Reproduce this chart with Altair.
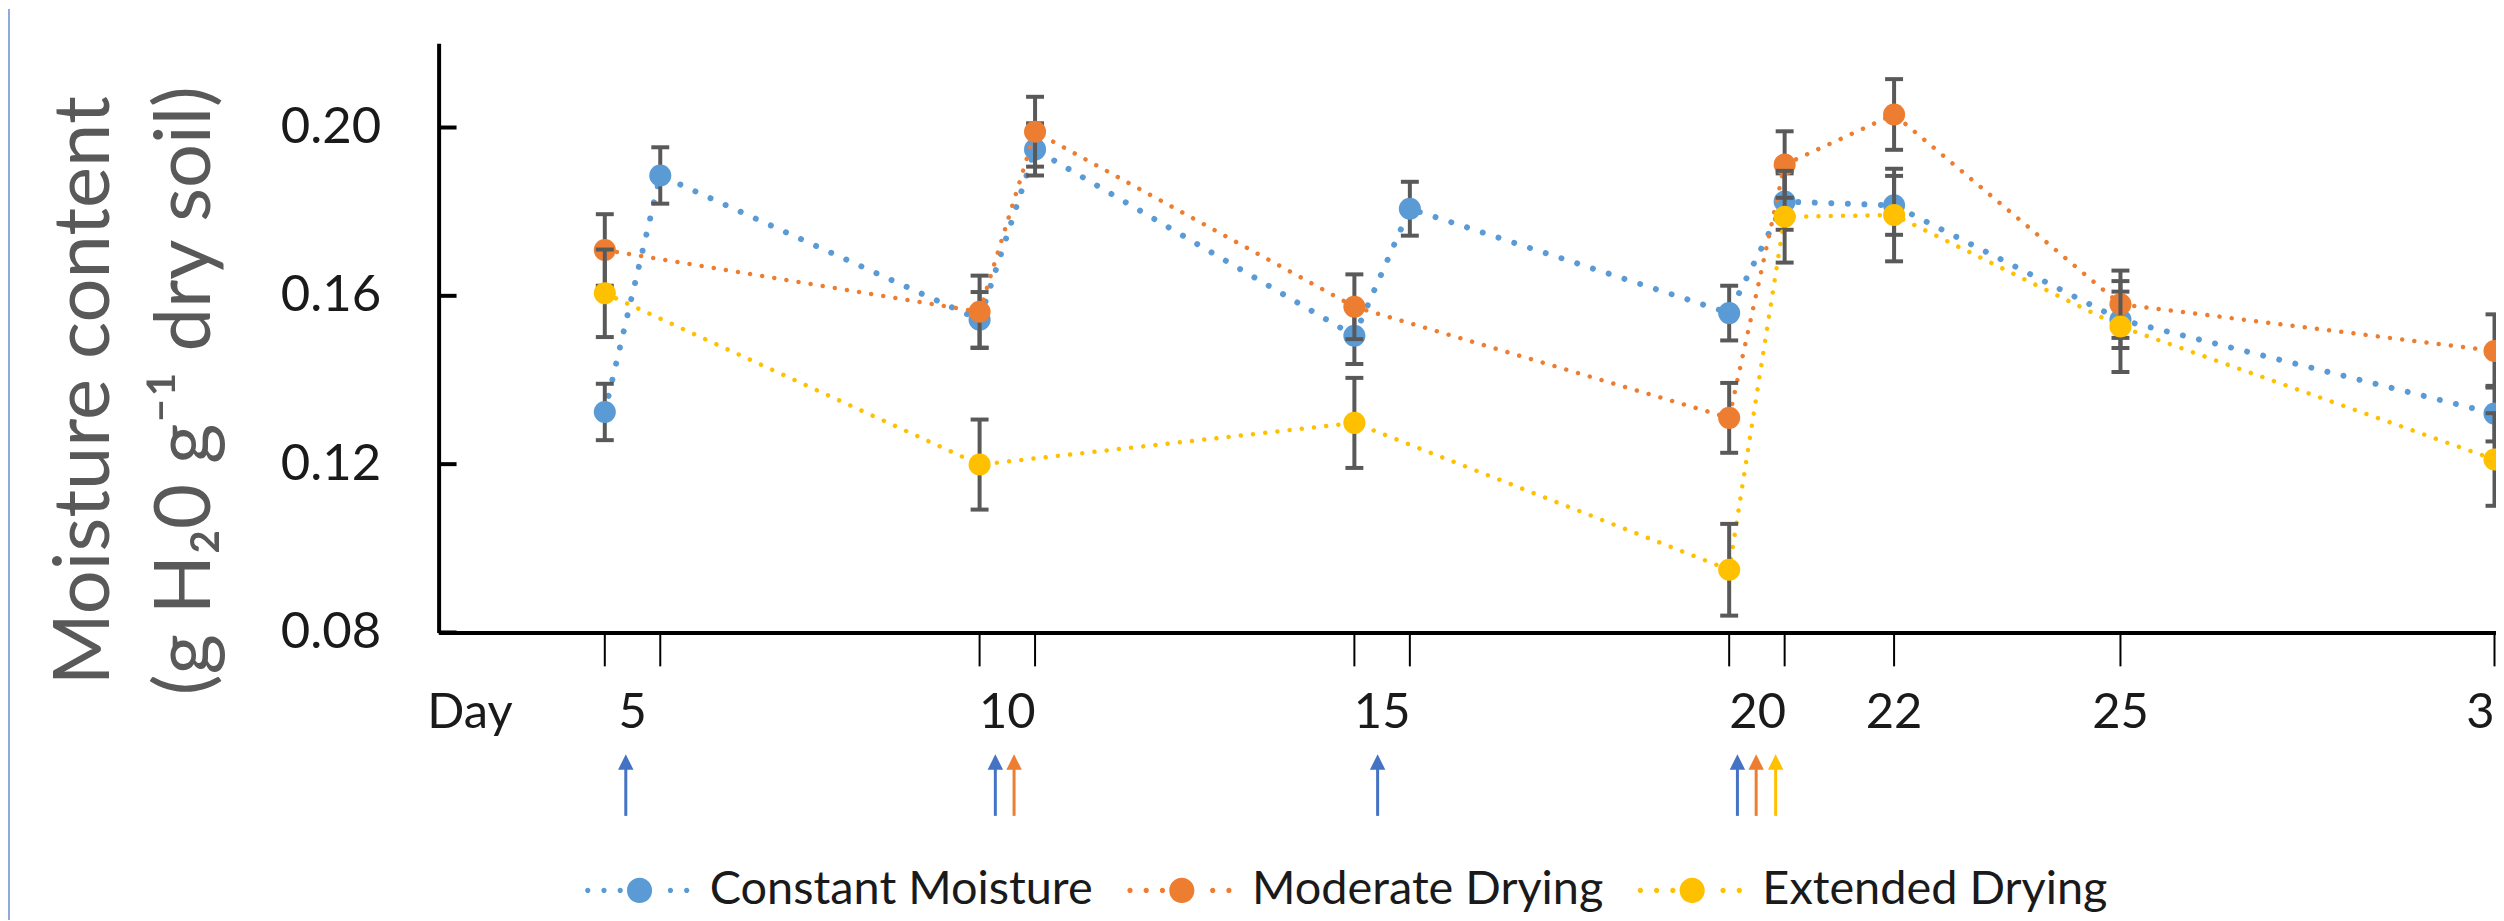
import altair as alt
import pandas as pd

FONT = "Lato"

series_names = ["Constant Moisture", "Moderate Drying", "Extended Drying"]
series_colors = ["#5B9BD5", "#ED7D31", "#FFC000"]
arrow_colors = ["#4472C4", "#ED7D31", "#FFC000"]

# sampling times (day); second sample ~0.74 d after rewetting
cm_days = [5, 5.74, 10, 10.74, 15, 15.74, 20, 20.74, 22.2, 25.22, 30.21]
cm_mean = [0.1324, 0.1886, 0.1543, 0.1948, 0.1505, 0.1807, 0.1559, 0.1824, 0.1815, 0.1543, 0.1320]
cm_err = [0.0067, 0.0067, 0.0066, 0.0062, 0.0067, 0.0064, 0.0065, 0.0067, 0.0070, 0.0067, 0.0066]

md_days = [5, 10, 10.74, 15, 20, 20.74, 22.2, 25.22, 30.21]
md_mean = [0.1709, 0.1562, 0.1990, 0.1574, 0.1310, 0.1912, 0.2031, 0.1580, 0.1469]
md_err = [0.0085, 0.0086, 0.0083, 0.0077, 0.0083, 0.0079, 0.0084, 0.0080, 0.0087]

ed_days = [5, 10, 15, 20, 20.74, 22.2, 25.22, 30.21]
ed_mean = [0.1606, 0.1199, 0.1298, 0.0949, 0.1788, 0.1792, 0.1527, 0.1211]
ed_err = [0.0104, 0.0107, 0.0107, 0.0109, 0.0109, 0.0110, 0.0108, 0.0110]

tick_days = [5, 5.74, 10, 10.74, 15, 15.74, 20, 20.74, 22.2, 25.22, 30.21]
label_days = [3.2, 5.37, 10.37, 15.37, 20.38, 22.2, 25.22, 30.21]
label_texts = ["Day", "5", "10", "15", "20", "22", "25", "30"]

arrow_days = [5.28, 10.21, 10.46, 15.31, 20.11, 20.36, 20.62]
arrow_series = ["Constant Moisture", "Constant Moisture", "Moderate Drying",
                "Constant Moisture", "Constant Moisture", "Moderate Drying",
                "Extended Drying"]

y_ticks = [0.08, 0.12, 0.16, 0.20]
y_title = ["Moisture content", "(g H\u20820 g\u207b\u00b9 dry soil)"]

rows = []
for name, ds, ms, es in [(series_names[0], cm_days, cm_mean, cm_err),
                         (series_names[1], md_days, md_mean, md_err),
                         (series_names[2], ed_days, ed_mean, ed_err)]:
    for d, m, e in zip(ds, ms, es):
        rows.append({"series": name, "day": d, "mean": m, "lo": m - e, "hi": m + e})
df = pd.DataFrame(rows)
ticks_df = pd.DataFrame({"day": tick_days})
labels_df = pd.DataFrame({"day": label_days, "text": label_texts})
arrows_df = pd.DataFrame({"day": arrow_days, "series": arrow_series})
yt_df = pd.DataFrame({"mean": y_ticks})

X_DOMAIN = [2.783, 30.23]
Y_DOMAIN = [0.08, 0.22]


def xenc():
    return alt.X("day:Q", scale=alt.Scale(domain=X_DOMAIN, nice=False, zero=False),
                 axis=alt.Axis(labels=False, ticks=False, grid=False, domainWidth=4,
                               domainColor="black", title=None), title=None)


def yenc(field):
    return alt.Y(f"{field}:Q", scale=alt.Scale(domain=Y_DOMAIN, nice=False, zero=False),
                 title=y_title,
                 axis=alt.Axis(values=y_ticks, format=".2f", ticks=False, grid=False,
                               domainWidth=4, domainColor="black",
                               labelFontSize=51, labelFont=FONT, labelColor="#1a1a1a",
                               labelPadding=58,
                               titleFontSize=78, titleFont=FONT, titleFontWeight="normal",
                               titleColor="#595959", titleAngle=270, titleAlign="center",
                               titleBaseline="alphabetic", titleX=-331, titleY=348,
                               titleLineHeight=101))


def circ(cx, r):
    return f"M{cx - r},0A{r},{r} 0 1,0 {cx + r},0A{r},{r} 0 1,0 {cx - r},0Z"


legend_path = "".join(circ(c, 0.05) for c in [-0.95, -0.64, -0.33, 0.63, 0.94]) + circ(0.04, 0.24)

cscale = alt.Scale(domain=series_names, range=series_colors)


def cenc():
    return alt.Color("series:N", scale=cscale,
                     legend=alt.Legend(orient="none", legendX=147, legendY=797,
                                       direction="horizontal", columns=3, title=None,
                                       symbolType=legend_path, symbolSize=11025,
                                       symbolOpacity=1, symbolStrokeWidth=0,
                                       labelFontSize=47, labelFont=FONT,
                                       labelColor="#1a1a1a", labelOffset=20,
                                       columnPadding=34, padding=0, labelLimit=2000))


line_style = {
    "Constant Moisture": dict(strokeWidth=6, strokeDash=[0.01, 16.6]),
    "Moderate Drying": dict(strokeWidth=4.5, strokeDash=[0.01, 12.3]),
    "Extended Drying": dict(strokeWidth=4.5, strokeDash=[0.01, 12.3]),
}

base = alt.Chart(df)
layers = []

# light frame edge at far left
layers.append(alt.Chart(ticks_df).mark_rule(color="#8FAADC", strokeWidth=2).encode(
    x=alt.value(-431), y=alt.value(-34), y2=alt.value(879)))

# x tick marks (outward) at sampling times
layers.append(alt.Chart(ticks_df).mark_rule(color="black", strokeWidth=2).encode(
    x=xenc(), y=alt.value(591), y2=alt.value(625)))

# y tick marks (inward)
layers.append(alt.Chart(yt_df).mark_rule(color="black", strokeWidth=4).encode(
    y=yenc("mean"), x=alt.value(0), x2=alt.value(18)))

for s in series_names:
    sub = base.transform_filter(alt.datum.series == s)
    layers.append(sub.mark_line(strokeCap="round", **line_style[s]).encode(
        x=xenc(), y=yenc("mean"), color=cenc()))
    layers.append(sub.mark_rule(color="#595959", strokeWidth=4).encode(
        x=xenc(), y=yenc("lo"), y2="hi:Q"))
    for f in ["lo", "hi"]:
        layers.append(sub.mark_point(shape="stroke", size=324, strokeWidth=4,
                                     color="#595959", opacity=1).encode(
            x=xenc(), y=yenc(f)))
    layers.append(sub.mark_point(filled=True, size=490, opacity=1).encode(
        x=xenc(), y=yenc("mean"), color=cenc()))

# x labels
layers.append(alt.Chart(labels_df).mark_text(fontSize=49, font=FONT, color="#1a1a1a",
                                             align="center", baseline="middle").encode(
    x=xenc(), y=alt.value(672), text="text:N"))

# rewetting arrows
ascale = alt.Scale(domain=series_names, range=arrow_colors)
layers.append(alt.Chart(arrows_df).mark_rule(strokeWidth=3).encode(
    x=xenc(), y=alt.value(727), y2=alt.value(775),
    stroke=alt.Stroke("series:N", scale=ascale, legend=None)))
layers.append(alt.Chart(arrows_df).mark_point(shape="M0,-1L1,1L-1,1Z", size=240, filled=True,
                                              opacity=1, strokeWidth=0).encode(
    x=xenc(), y=alt.value(721),
    fill=alt.Fill("series:N", scale=ascale, legend=None)))

chart = alt.layer(*layers).properties(
    width=2064, height=591,
    autosize=alt.AutoSizeParams(type="none"),
    padding={"left": 432, "top": 34, "right": 0, "bottom": 288},
).configure_view(stroke="transparent")

chart.save("out.html", embed_options={"renderer": "svg", "actions": False})
